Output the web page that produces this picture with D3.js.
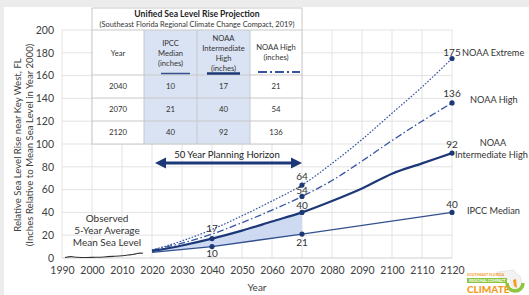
<!DOCTYPE html>
<html><head><meta charset="utf-8">
<script src="https://cdn.jsdelivr.net/npm/d3@7"></script>
<style>
html,body{margin:0;padding:0;background:#fff;}
svg{display:block;font-family:Lato,"Open Sans",sans-serif;}
</style></head>
<body><svg id="c" width="529" height="295"></svg>
<script>
// ---- data ----
const xTicks = [1990,2000,2010,2020,2030,2040,2050,2060,2070,2080,2090,2100,2110,2120];
const yTicks = [0,20,40,60,80,100,120,140,160,180,200];

const obsYears  = [1991,1993,1995,1998,2001,2004,2007,2010,2012,2014,2015,2016,2017];
const obsValues = [0.5,1.2,0.6,0.4,0.6,0.9,1.4,2.0,2.6,3.3,4.0,4.3,4.2];

const ipccYears = [2020,2040,2070,2120];
const ipccValues = [5,10,21,40];

const projYears = [2020,2030,2040,2050,2060,2070,2080,2090,2100,2110,2120];
const intHighValues = [6,11,17,24,32,40,50,61,74,83,92];
const highValues    = [7,13,21,31,42,54,68,85,103,120,136];
const extremeValues = [7,15,25,37,50,64,83,104,127,150,175];

const tableYears = [2040,2070,2120];
const tableIpcc = [10,21,40];
const tableIntHigh = [17,40,92];
const tableHigh = [21,54,136];
const tableExtreme = [null,64,175];

// ---- drawing ----
const svg = d3.select("#c");
svg.append("rect").attr("width",529).attr("height",295).attr("fill","#ececec");
svg.append("rect").attr("x",4).attr("y",7).attr("width",525).attr("height",288).attr("fill","#fff");

const x = d3.scaleLinear().domain([1990,2120]).range([62,452]);
const y = d3.scaleLinear().domain([0,200]).range([258,30]);

// grid
const g = svg.append("g");
g.selectAll(".vg").data(xTicks).join("line")
  .attr("x1",d=>x(d)).attr("x2",d=>x(d)).attr("y1",y(200)).attr("y2",y(0))
  .attr("stroke","#e3e3e3").attr("stroke-width",1);
g.selectAll(".hg").data(yTicks).join("line")
  .attr("x1",x(1990)).attr("x2",x(2120)).attr("y1",d=>y(d)).attr("y2",d=>y(d))
  .attr("stroke",d=>d===0?"#cfcfcf":"#e3e3e3").attr("stroke-width",1);

// axes labels
const yAxis = d3.axisLeft(y).tickValues(yTicks).tickSize(0).tickPadding(8);
const ya = svg.append("g").attr("transform",`translate(${x(1990)},0)`).call(yAxis);
ya.select(".domain").remove();
ya.selectAll("text").attr("font-size",10.5).attr("fill","#404040").attr("font-family","Lato");

const xAxis = d3.axisBottom(x).tickValues(xTicks).tickFormat(d3.format("d")).tickSize(0).tickPadding(9);
const xa = svg.append("g").attr("transform",`translate(0,${y(0)})`).call(xAxis);
xa.select(".domain").remove();
xa.selectAll("text").attr("font-size",10.5).attr("fill","#404040").attr("font-family","Lato");

svg.append("text").attr("x",257).attr("y",291).attr("text-anchor","middle")
  .attr("font-size",10).attr("fill","#404040").text("Year");
svg.append("text").attr("transform","translate(21,145) rotate(-90)").attr("text-anchor","middle")
  .attr("font-size",9.6).attr("fill","#404040").text("Relative Sea Level Rise near Key West, FL");
svg.append("text").attr("transform","translate(33,145) rotate(-90)").attr("text-anchor","middle")
  .attr("font-size",9.6).attr("fill","#404040").text("(Inches Relative to Mean Sea Level in Year 2000)");

// shaded area between IPCC and Int High (2020-2070)
const ipccAt = yr => {
  for (let i=0;i<ipccYears.length-1;i++){
    if (yr>=ipccYears[i] && yr<=ipccYears[i+1]){
      const t=(yr-ipccYears[i])/(ipccYears[i+1]-ipccYears[i]);
      return ipccValues[i]+t*(ipccValues[i+1]-ipccValues[i]);
    }
  }
  return ipccValues[ipccValues.length-1];
};
const areaPts = projYears.map((yr,i)=>({yr,hi:intHighValues[i]})).filter(d=>d.yr<=2070);
svg.append("path").datum(areaPts)
  .attr("d",d3.area().x(d=>x(d.yr)).y0(d=>y(ipccAt(d.yr))).y1(d=>y(d.hi)).curve(d3.curveMonotoneX))
  .attr("fill","#c9d6ef").attr("opacity",0.9);

// observed
svg.append("path").datum(obsYears.map((yr,i)=>[yr,obsValues[i]]))
  .attr("d",d3.line().x(d=>x(d[0])).y(d=>y(d[1])).curve(d3.curveMonotoneX))
  .attr("fill","none").attr("stroke","#333").attr("stroke-width",1.1);

const smooth = d3.line().x(d=>x(d[0])).y(d=>y(d[1])).curve(d3.curveMonotoneX);
const straight = d3.line().x(d=>x(d[0])).y(d=>y(d[1]));
const series = [
  {vals:extremeValues, yrs:projYears, color:"#3553a0", w:1.2, dash:"1.6,1.6", gen:smooth},
  {vals:highValues, yrs:projYears, color:"#3553a0", w:1.3, dash:"7,2.5,1.5,2.5", gen:smooth},
  {vals:intHighValues, yrs:projYears, color:"#1d3877", w:2.2, dash:null, gen:smooth},
  {vals:ipccValues, yrs:ipccYears, color:"#33508f", w:1.3, dash:null, gen:straight}
];
series.forEach(s=>{
  svg.append("path").datum(s.yrs.map((yr,i)=>[yr,s.vals[i]]))
    .attr("d",s.gen)
    .attr("fill","none").attr("stroke",s.color).attr("stroke-width",s.w)
    .attr("stroke-dasharray",s.dash);
});

// markers and labels (label text from the table values)
const offs = {
  2040:{ipcc:7, int:-10},
  2070:{ipcc:8, int:-7, high:-6, ext:-9},
  2120:{ipcc:-8, int:-9, high:-9, ext:-6}
};
const valLabels = [];
tableYears.forEach((yr,i)=>{
  const pi = projYears.indexOf(yr);
  valLabels.push({yr, v:ipccValues[ipccYears.indexOf(yr)], t:tableIpcc[i], off:offs[yr].ipcc});
  valLabels.push({yr, v:intHighValues[pi], t:tableIntHigh[i], off:offs[yr].int});
  if (tableExtreme[i]!==null){
    valLabels.push({yr, v:highValues[pi], t:tableHigh[i], off:offs[yr].high});
    valLabels.push({yr, v:extremeValues[pi], t:tableExtreme[i], off:offs[yr].ext});
  }
});
svg.selectAll(".mk").data(valLabels).join("circle")
  .attr("cx",d=>x(d.yr)).attr("cy",d=>y(d.v)).attr("r",2.6).attr("fill","#1d3877");
svg.selectAll(".vl").data(valLabels).join("text")
  .attr("x",d=>x(d.yr)).attr("y",d=>y(d.v)+d.off).attr("dy","0.35em")
  .attr("text-anchor","middle").attr("font-size",10).attr("fill","#333").text(d=>d.t);

// series names
const names = [
  {t:"NOAA Extreme", x:462, y:y(175)-6, a:"start"},
  {t:"NOAA High", x:470, y:y(136)-3, a:"start"},
  {t:"NOAA", x:493, y:y(92)-10, a:"middle"},
  {t:"Intermediate High", x:455, y:y(92)+2, a:"start"},
  {t:"IPCC Median", x:467, y:y(40)-2, a:"start"}
];
svg.selectAll(".nm").data(names).join("text")
  .attr("x",d=>d.x).attr("y",d=>d.y).attr("dy","0.35em").attr("text-anchor",d=>d.a)
  .attr("font-size",9.2).attr("fill","#333").text(d=>d.t);

// observed label
["Observed","5-Year Average","Mean Sea Level"].forEach((t,i)=>{
  svg.append("text").attr("x",107).attr("y",218+i*12).attr("dy","0.35em").attr("text-anchor","middle")
    .attr("font-size",10).attr("fill","#333").text(t);
});

// planning horizon arrow
const ay = 163, ax1 = x(2020)+3, ax2 = x(2070);
svg.append("line").attr("x1",ax1+8).attr("x2",ax2-8).attr("y1",ay).attr("y2",ay)
  .attr("stroke","#1d3877").attr("stroke-width",3);
svg.append("path").attr("d",`M${ax1},${ay} L${ax1+11},${ay-5.5} L${ax1+11},${ay+5.5} Z`).attr("fill","#1d3877");
svg.append("path").attr("d",`M${ax2},${ay} L${ax2-11},${ay-5.5} L${ax2-11},${ay+5.5} Z`).attr("fill","#1d3877");
svg.append("text").attr("x",227).attr("y",155).attr("dy","0.35em").attr("text-anchor","middle")
  .attr("font-size",9.6).attr("fill","#222").text("50 Year Planning Horizon");

// ---- table ----
const T = svg.append("g");
const tx = [92,144,197,250,302];
const ty = [8,30,75,98,121,144];
T.append("rect").attr("x",tx[0]).attr("y",ty[0]).attr("width",tx[4]-tx[0]).attr("height",ty[5]-ty[0]).attr("fill","#fff");
T.append("rect").attr("x",tx[1]).attr("y",ty[1]).attr("width",tx[3]-tx[1]).attr("height",ty[5]-ty[1]).attr("fill","#dae3f3");
T.append("rect").attr("x",tx[0]).attr("y",ty[0]).attr("width",tx[4]-tx[0]).attr("height",ty[5]-ty[0])
  .attr("fill","none").attr("stroke","#c8c8c8");
ty.slice(1,5).forEach(v=>T.append("line").attr("x1",tx[0]).attr("x2",tx[4]).attr("y1",v).attr("y2",v).attr("stroke","#c8c8c8"));
tx.slice(1,4).forEach(v=>T.append("line").attr("x1",v).attr("x2",v).attr("y1",ty[1]).attr("y2",ty[5]).attr("stroke","#c8c8c8"));

T.append("text").attr("x",197).attr("y",14).attr("dy","0.35em").attr("text-anchor","middle")
  .attr("font-size",8.6).attr("font-weight","bold").attr("fill","#222").text("Unified Sea Level Rise Projection");
T.append("text").attr("x",197).attr("y",24).attr("dy","0.35em").attr("text-anchor","middle")
  .attr("font-size",7.4).attr("fill","#333").text("(Southeast Florida Regional Climate Change Compact, 2019)");

const hdr = [
  {cx:118, lines:["Year"], y0:53},
  {cx:170.5, lines:["IPCC","Median","(inches)"], y0:43},
  {cx:223.5, lines:["NOAA","Intermediate","High","(inches)"], y0:38},
  {cx:276, lines:["NOAA High","(inches)"], y0:47}
];
hdr.forEach(h=>h.lines.forEach((t,i)=>{
  T.append("text").attr("x",h.cx).attr("y",h.y0+i*10).attr("dy","0.35em").attr("text-anchor","middle")
   .attr("font-size",7.6).attr("fill","#333").text(t);
}));
T.append("line").attr("x1",161).attr("x2",190).attr("y1",73.5).attr("y2",73.5).attr("stroke","#33508f").attr("stroke-width",1.5);
T.append("line").attr("x1",207).attr("x2",240).attr("y1",73.5).attr("y2",73.5).attr("stroke","#1d3877").attr("stroke-width",2.5);
T.append("line").attr("x1",258).attr("x2",300).attr("y1",72).attr("y2",72).attr("stroke","#3553a0").attr("stroke-width",1.8).attr("stroke-dasharray","9,3,2,3");

const rowsY = [86.5,109.5,132.5];
tableYears.forEach((yr,i)=>{
  [[118,yr],[170.5,tableIpcc[i]],[223.5,tableIntHigh[i]],[276,tableHigh[i]]].forEach(c=>{
    T.append("text").attr("x",c[0]).attr("y",rowsY[i]).attr("dy","0.35em").attr("text-anchor","middle")
      .attr("font-size",7.8).attr("fill","#333").text(c[1]);
  });
});

// ---- logo ----
const L = svg.append("g");
L.append("path").attr("d","M497,272 L514,270 L516,274 L520,276 L523,286 L518,293 L513,288 L510,280 L503,278 L497,276 Z")
  .attr("fill","#f2f2f2").attr("stroke","#dcdcdc").attr("stroke-width",0.6);
L.append("path").attr("d","M507,283 A8,8 0 0 0 523,283").attr("fill","none").attr("stroke","#8cc63f").attr("stroke-width",3.5);
L.append("path").attr("d","M513,280 L516,279 L517,288 L514,286 Z").attr("fill","#f39c21");
L.append("text").attr("x",467).attr("y",276).attr("font-size",3.6).attr("font-weight","bold").attr("fill","#f39c21").text("SOUTHEAST FLORIDA");
L.append("rect").attr("x",467).attr("y",278).attr("width",40).attr("height",5).attr("fill","#8cc63f");
L.append("text").attr("x",469).attr("y",282).attr("font-size",3.6).attr("font-weight","bold").attr("fill","#fff").text("REGIONAL COMPACT");
L.append("text").attr("x",467).attr("y",293).attr("font-size",10).attr("font-weight","900").attr("fill","#f39c21").text("CLIMATE");
</script>
</body></html>
